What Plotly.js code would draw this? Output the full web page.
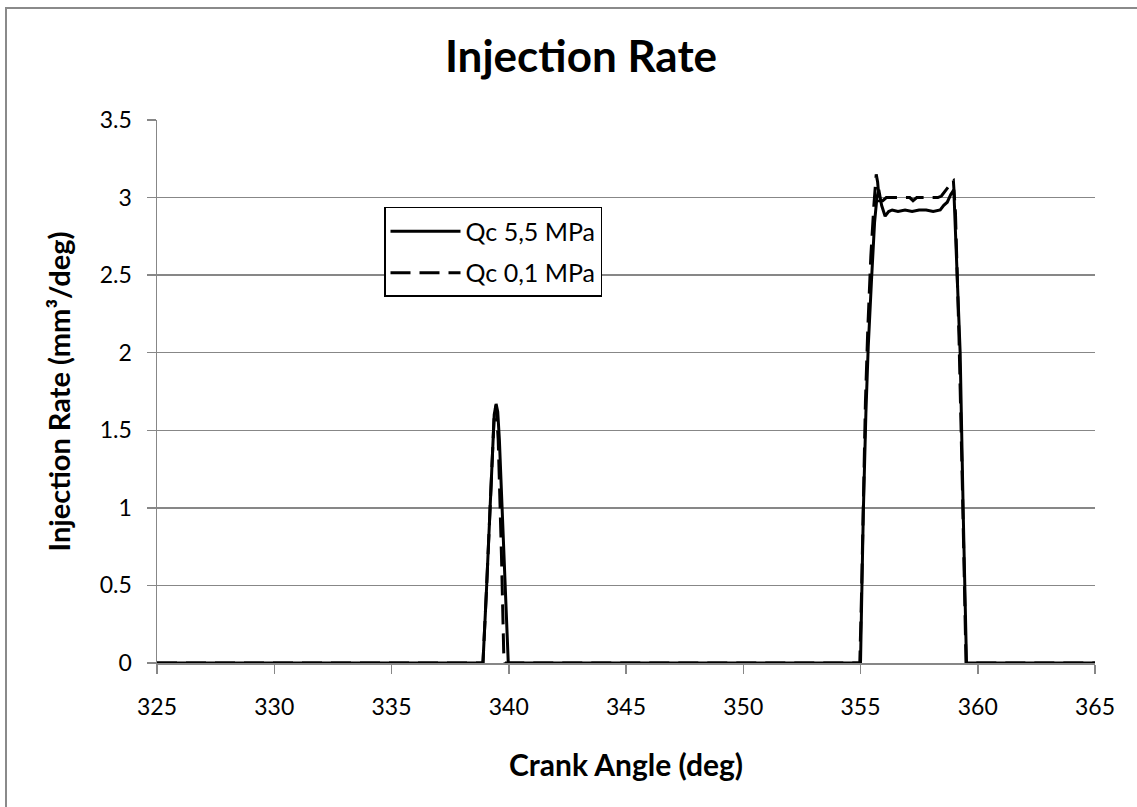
<!DOCTYPE html>
<html>
<head>
<meta charset="utf-8">
<script src="https://cdn.plot.ly/plotly-3.0.1.min.js"></script>
<style>
  html, body { margin: 0; padding: 0; background: #fff; overflow: hidden; }
  #chart { width: 1137px; height: 807px; position: absolute; left: 0; top: 0; }
  #frame { position: absolute; left: 5px; top: 7px; width: 1200px; height: 900px;
           border-left: 2px solid #8a8a8a; border-top: 2px solid #8a8a8a; pointer-events: none; }
</style>
</head>
<body>
<div id="chart"></div>
<div id="frame"></div>
<script>
// Qc 5,5 MPa (solid)
const crankAngle55 = [325, 338.90, 339.05, 339.20, 339.31, 339.38, 339.46, 339.53, 339.60, 339.77, 339.91, 339.98,
  355.00, 355.05, 355.12, 355.23, 355.33, 355.47, 355.60, 355.70, 355.78, 355.90, 356.05, 356.20, 356.35, 356.60,
  356.90, 357.20, 357.50, 357.80, 358.10, 358.40, 358.55, 358.70, 358.85, 358.98, 359.05, 359.15, 359.25, 359.38,
  359.52, 365];
const rate55 = [0, 0, 0.47, 1.01, 1.44, 1.60, 1.67, 1.62, 1.44, 0.80, 0.26, 0,
  0, 0.43, 0.97, 1.61, 2.04, 2.47, 2.84, 3.00, 3.05, 2.95, 2.88, 2.91, 2.92, 2.91,
  2.92, 2.91, 2.92, 2.92, 2.91, 2.92, 2.95, 2.97, 3.02, 3.05, 2.75, 2.40, 2.00, 0.97,
  0, 0];

// Qc 0,1 MPa (dashed)
const crankAngle01 = [325, 338.90, 339.05, 339.20, 339.31, 339.38, 339.46, 339.55, 339.69, 339.79, 339.84,
  354.97, 355.04, 355.11, 355.21, 355.31, 355.44, 355.57, 355.67, 355.73, 355.80, 355.95, 356.10, 356.30,
  356.60, 356.90, 357.10, 357.24, 357.40, 357.70, 358.00, 358.30, 358.45, 358.60, 358.75, 358.85, 358.96,
  359.05, 359.20, 359.35, 359.50, 365];
const rate01 = [0, 0, 0.47, 1.01, 1.44, 1.60, 1.66, 1.44, 0.69, 0.04, 0,
  0, 0.42, 1.00, 1.68, 2.15, 2.62, 2.95, 3.15, 3.10, 2.98, 2.98, 3.00, 3.00,
  3.00, 3.00, 3.00, 2.98, 3.00, 3.00, 3.00, 3.00, 3.01, 3.04, 3.07, 3.10, 3.11,
  2.90, 2.10, 1.10, 0, 0];

const seriesNames = ['Qc 5,5 MPa', 'Qc 0,1 MPa'];
const xTicks = [325, 330, 335, 340, 345, 350, 355, 360, 365];
const yTicks = [0, 0.5, 1, 1.5, 2, 2.5, 3, 3.5];

const FONT = 'Lato, "Open Sans", sans-serif';
const GRID = '#878787';

const traces = [
  {
    x: crankAngle55, y: rate55, name: seriesNames[0], type: 'scatter', mode: 'lines',
    line: { color: '#000', width: 3, dash: 'solid' }, cliponaxis: false, legendgroup: 'a'
  },
  {
    x: crankAngle01, y: rate01, name: seriesNames[1], type: 'scatter', mode: 'lines',
    line: { color: '#000', width: 3, dash: '20px,9px' }, cliponaxis: false, legendgroup: 'b'
  }
];

const layout = {
  width: 1137, height: 807,
  margin: { l: 157, r: 42, t: 120, b: 143.5, pad: 0 },
  paper_bgcolor: '#fff', plot_bgcolor: '#fff',
  font: { family: FONT, color: '#000', size: 23 },
  title: {
    text: '<b>Injection Rate</b>',
    font: { family: FONT, size: 44, color: '#000' },
    xref: 'container', x: 581 / 1137, xanchor: 'center',
    yref: 'container', y: 1 - 57 / 807, yanchor: 'middle'
  },
  xaxis: {
    range: [325, 365], tickvals: xTicks, ticktext: xTicks.map(String),
    showgrid: false, zeroline: false,
    showline: true, linecolor: GRID, linewidth: 1.5,
    ticks: 'outside', ticklen: 9, tickcolor: GRID, tickwidth: 1.5,
    tickfont: { family: FONT, size: 23, color: '#000' },
    ticklabelstandoff: 14,
    title: { text: '<b>Crank Angle (deg)</b>', font: { family: FONT, size: 30, color: '#000' }, standoff: 36 }
  },
  yaxis: {
    range: [0, 3.5], tickvals: yTicks, ticktext: yTicks.map(String),
    showgrid: true, gridcolor: GRID, gridwidth: 1.5, zeroline: false,
    showline: true, linecolor: GRID, linewidth: 1.5,
    ticks: 'outside', ticklen: 9, tickcolor: GRID, tickwidth: 1.5,
    tickfont: { family: FONT, size: 23, color: '#000' },
    ticklabelstandoff: 10,
    title: { text: '<b>Injection Rate (mm³/deg)</b>', font: { family: FONT, size: 29, color: '#000' }, standoff: 20 }
  },
  showlegend: true,
  legend: {
    xref: 'paper', yref: 'paper',
    x: (384 - 157) / 938, y: (663.5 - 207) / 543.5, xanchor: 'left', yanchor: 'top',
    bgcolor: '#fff', bordercolor: '#000', borderwidth: 1.5,
    font: { family: FONT, size: 25, color: '#000' },
    traceorder: 'grouped', tracegroupgap: 6, itemwidth: 70
  }
};

Plotly.newPlot('chart', traces, layout, { staticPlot: true, displayModeBar: false });
</script>
</body>
</html>
